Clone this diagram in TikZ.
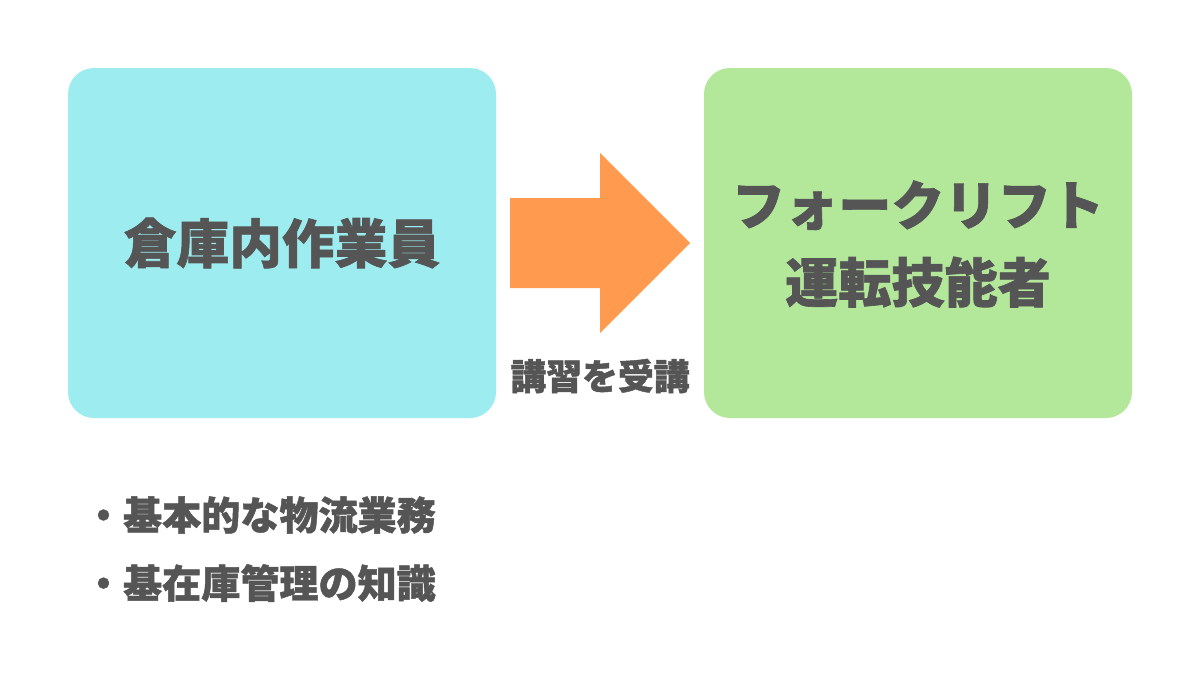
\documentclass[tikz,border=0pt]{standalone}
\usepackage{fontspec}
\newfontfamily\jp{Noto Sans CJK JP Black}[FakeBold=1.2]
\definecolor{boxcyan}{HTML}{9DEDF0}
\definecolor{boxgreen}{HTML}{B3E89B}
\definecolor{arroworange}{HTML}{FF9A4F}
\definecolor{textgray}{HTML}{555555}
\tikzset{
  box/.style={rounded corners=0.65cm,inner sep=0pt},
  label/.style={text=textgray,font=\jp,align=center},
}
\begin{document}
\begin{tikzpicture}[x=0.025cm,y=-0.025cm]
    \useasboundingbox[fill=white] (0,0) rectangle (1200,672);
    \fill[box,boxcyan] (68,68) rectangle (496,418);
    \fill[box,boxgreen] (704,68) rectangle (1132,418);
    \fill[arroworange] (510,198) -- (600,198) -- (600,153) -- (690,243) -- (600,333) -- (600,288) -- (510,288) -- cycle;
    \node[label,font=\jp\fontsize{37.5}{45}\selectfont] (worker) at (282,243) {倉庫内作業員};
    \node[label,font=\jp\fontsize{37.8}{55}\selectfont] (driver) at (918,244) {フォークリフト\\運転技能者};
    \node[label,font=\jp\fontsize{25.5}{30}\selectfont] (course) at (600,376) {講習を受講};
    \node[label,anchor=west,font=\jp\fontsize{27.8}{32}\selectfont] (skill1) at (79,515) {・基本的な物流業務};
    \node[label,anchor=west,font=\jp\fontsize{27.8}{32}\selectfont] (skill2) at (79,583) {・基在庫管理の知識};
  \end{tikzpicture}
\end{document}
